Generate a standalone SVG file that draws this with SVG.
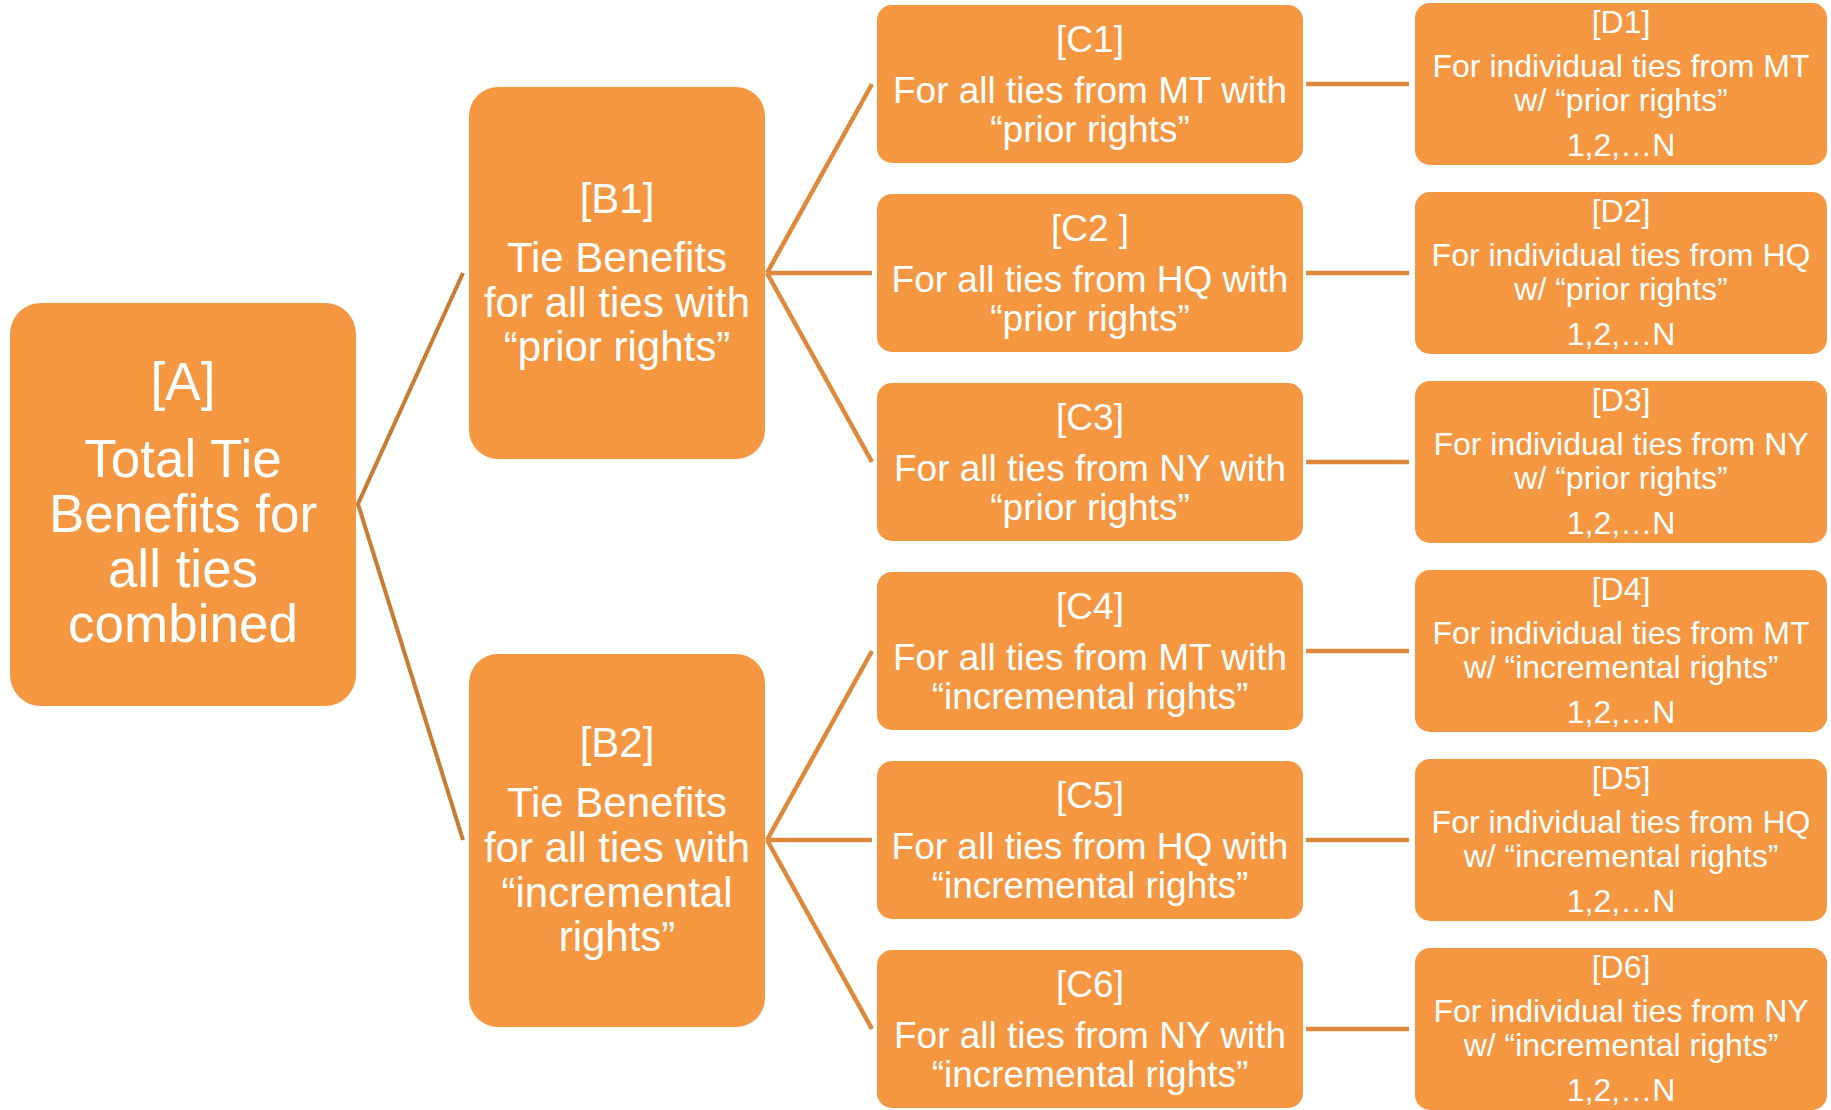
<svg xmlns="http://www.w3.org/2000/svg" width="1831" height="1110" viewBox="0 0 1831 1110">
<style>
.box{fill:#F59641;}
.t{fill:#FFFFFF;font-family:"Liberation Sans",Arial,sans-serif;text-anchor:middle;}
.a{font-size:53px;}
.b{font-size:42px;}
.c{font-size:37px;}
.d{font-size:32px;}
.l1{stroke:#CB7B30;stroke-width:4;fill:none;}
.l2{stroke:#E0883A;stroke-width:4.5;fill:none;}
</style>
<rect width="1831" height="1110" fill="#FFFFFF"/>
<g id="connectors">
<polyline class="l1" points="463,273 358,504 463,840"/>
<line class="l2" x1="767" y1="273" x2="872" y2="84"/>
<line class="l2" x1="767" y1="273" x2="872" y2="273"/>
<line class="l2" x1="767" y1="273" x2="872" y2="462"/>
<line class="l2" x1="767" y1="840" x2="872" y2="651"/>
<line class="l2" x1="767" y1="840" x2="872" y2="840"/>
<line class="l2" x1="767" y1="840" x2="872" y2="1029"/>
<line class="l2" x1="1306" y1="84" x2="1409" y2="84"/>
<line class="l2" x1="1306" y1="273" x2="1409" y2="273"/>
<line class="l2" x1="1306" y1="462" x2="1409" y2="462"/>
<line class="l2" x1="1306" y1="651" x2="1409" y2="651"/>
<line class="l2" x1="1306" y1="840" x2="1409" y2="840"/>
<line class="l2" x1="1306" y1="1029" x2="1409" y2="1029"/>
</g>
<g id="A">
<rect class="box" x="10" y="303" width="346" height="403" rx="31"/>
<text class="t a" x="183" y="400">[A]</text>
<text class="t a" x="183" y="477">Total Tie</text>
<text class="t a" x="183" y="532">Benefits for</text>
<text class="t a" x="183" y="587">all ties</text>
<text class="t a" x="183" y="642">combined</text>
</g>
<g id="B1">
<rect class="box" x="469" y="87" width="296" height="372" rx="29"/>
<text class="t b" x="617" y="213">[B1]</text>
<text class="t b" x="617" y="272">Tie Benefits</text>
<text class="t b" x="617" y="317">for all ties with</text>
<text class="t b" x="617" y="361">“prior rights”</text>
</g>
<g id="B2">
<rect class="box" x="469" y="654" width="296" height="373" rx="29"/>
<text class="t b" x="617" y="757">[B2]</text>
<text class="t b" x="617" y="817">Tie Benefits</text>
<text class="t b" x="617" y="862">for all ties with</text>
<text class="t b" x="617" y="907">“incremental</text>
<text class="t b" x="617" y="951">rights”</text>
</g>
<g id="C1">
<rect class="box" x="877" y="5" width="426" height="158" rx="15"/>
<text class="t c" x="1090" y="52">[C1]</text>
<text class="t c" x="1090" y="103">For all ties from MT with</text>
<text class="t c" x="1090" y="142">“prior rights”</text>
</g>
<g id="C2">
<rect class="box" x="877" y="194" width="426" height="158" rx="15"/>
<text class="t c" x="1090" y="241">[C2 ]</text>
<text class="t c" x="1090" y="292">For all ties from HQ with</text>
<text class="t c" x="1090" y="331">“prior rights”</text>
</g>
<g id="C3">
<rect class="box" x="877" y="383" width="426" height="158" rx="15"/>
<text class="t c" x="1090" y="430">[C3]</text>
<text class="t c" x="1090" y="481">For all ties from NY with</text>
<text class="t c" x="1090" y="520">“prior rights”</text>
</g>
<g id="C4">
<rect class="box" x="877" y="572" width="426" height="158" rx="15"/>
<text class="t c" x="1090" y="619">[C4]</text>
<text class="t c" x="1090" y="670">For all ties from MT with</text>
<text class="t c" x="1090" y="709">“incremental rights”</text>
</g>
<g id="C5">
<rect class="box" x="877" y="761" width="426" height="158" rx="15"/>
<text class="t c" x="1090" y="808">[C5]</text>
<text class="t c" x="1090" y="859">For all ties from HQ with</text>
<text class="t c" x="1090" y="898">“incremental rights”</text>
</g>
<g id="C6">
<rect class="box" x="877" y="950" width="426" height="158" rx="15"/>
<text class="t c" x="1090" y="997">[C6]</text>
<text class="t c" x="1090" y="1048">For all ties from NY with</text>
<text class="t c" x="1090" y="1087">“incremental rights”</text>
</g>
<g id="D1">
<rect class="box" x="1415" y="3" width="412" height="162" rx="15"/>
<text class="t d" x="1621" y="33">[D1]</text>
<text class="t d" x="1621" y="77">For individual ties from MT</text>
<text class="t d" x="1621" y="111">w/ “prior rights”</text>
<text class="t d" x="1621" y="156">1,2,…N</text>
</g>
<g id="D2">
<rect class="box" x="1415" y="192" width="412" height="162" rx="15"/>
<text class="t d" x="1621" y="222">[D2]</text>
<text class="t d" x="1621" y="266">For individual ties from HQ</text>
<text class="t d" x="1621" y="300">w/ “prior rights”</text>
<text class="t d" x="1621" y="345">1,2,…N</text>
</g>
<g id="D3">
<rect class="box" x="1415" y="381" width="412" height="162" rx="15"/>
<text class="t d" x="1621" y="411">[D3]</text>
<text class="t d" x="1621" y="455">For individual ties from NY</text>
<text class="t d" x="1621" y="489">w/ “prior rights”</text>
<text class="t d" x="1621" y="534">1,2,…N</text>
</g>
<g id="D4">
<rect class="box" x="1415" y="570" width="412" height="162" rx="15"/>
<text class="t d" x="1621" y="600">[D4]</text>
<text class="t d" x="1621" y="644">For individual ties from MT</text>
<text class="t d" x="1621" y="678">w/ “incremental rights”</text>
<text class="t d" x="1621" y="723">1,2,…N</text>
</g>
<g id="D5">
<rect class="box" x="1415" y="759" width="412" height="162" rx="15"/>
<text class="t d" x="1621" y="789">[D5]</text>
<text class="t d" x="1621" y="833">For individual ties from HQ</text>
<text class="t d" x="1621" y="867">w/ “incremental rights”</text>
<text class="t d" x="1621" y="912">1,2,…N</text>
</g>
<g id="D6">
<rect class="box" x="1415" y="948" width="412" height="162" rx="15"/>
<text class="t d" x="1621" y="978">[D6]</text>
<text class="t d" x="1621" y="1022">For individual ties from NY</text>
<text class="t d" x="1621" y="1056">w/ “incremental rights”</text>
<text class="t d" x="1621" y="1101">1,2,…N</text>
</g>
</svg>
